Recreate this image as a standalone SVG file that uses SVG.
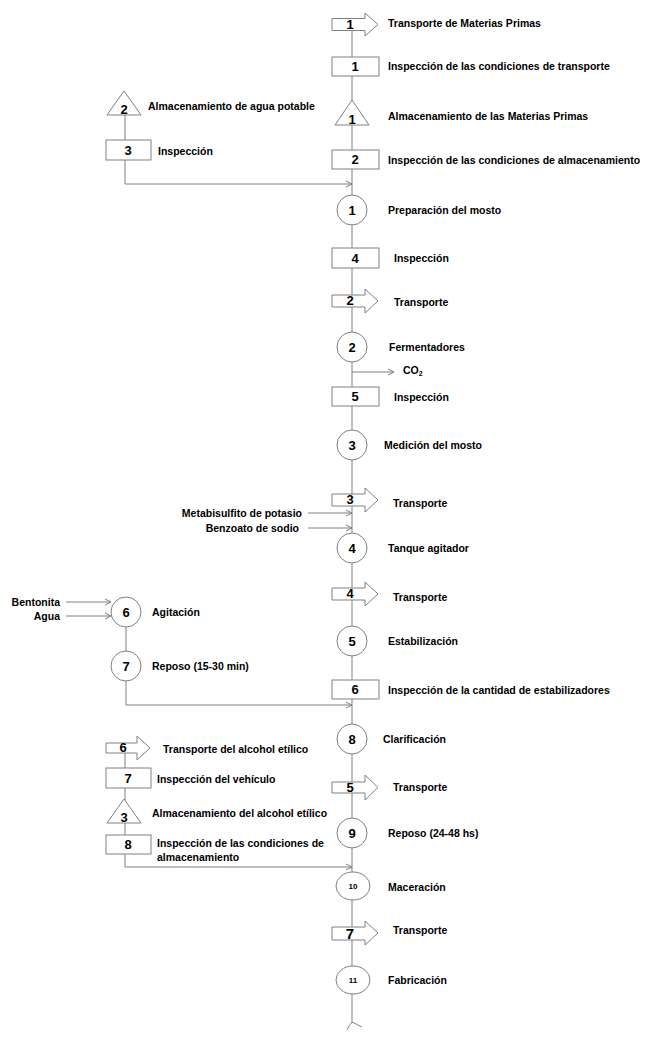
<svg xmlns="http://www.w3.org/2000/svg" width="662" height="1058" viewBox="0 0 662 1058">
<defs>
<style>
.ln{fill:none;stroke:#808080;stroke-width:1}
.sh{fill:#fff;stroke:#808080;stroke-width:1}
.t{font-family:"Liberation Sans",Arial,sans-serif;font-weight:bold;font-size:10.5px;fill:#000}
.n{font-family:"Liberation Sans",Arial,sans-serif;font-weight:bold;font-size:13px;fill:#000;text-anchor:middle}
.s{font-family:"Liberation Sans",Arial,sans-serif;font-weight:bold;font-size:8px;fill:#000;text-anchor:middle}
.e{text-anchor:end}
</style>
<marker id="ah" markerWidth="8" markerHeight="8" refX="7" refY="4" orient="auto" markerUnits="userSpaceOnUse">
<path d="M1,1 L7,4 L1,7" fill="none" stroke="#808080" stroke-width="1"/>
</marker>
</defs>
<rect width="662" height="1058" fill="#fff"/>
<g id="connectors">
<line class="ln" x1="352" y1="24" x2="352" y2="1023"/>
<path class="ln" d="M347,1030 Q349,1025 352,1022 Q356,1024 362,1027"/>
<line class="ln" x1="125" y1="100" x2="125" y2="184"/>
<path class="ln" d="M125,184 H352" marker-end="url(#ah)"/>
<path class="ln" d="M352,372 H394" marker-end="url(#ah)"/>
<path class="ln" d="M308,513 H352" marker-end="url(#ah)"/>
<path class="ln" d="M308,528 H352" marker-end="url(#ah)"/>
<path class="ln" d="M66,602 H111" marker-end="url(#ah)"/>
<path class="ln" d="M66,616 H111" marker-end="url(#ah)"/>
<path class="ln" d="M126,612 V705 H352" marker-end="url(#ah)"/>
<path class="ln" d="M125,748 V867 H352" marker-end="url(#ah)"/>
</g>
<g id="n-t1"><path class="sh" d="M332,18.5 H365 V13 L378,24.5 L365,36 V30.5 H332 Z"/><text class="n" x="350" y="29">1</text><text class="t" x="388" y="27">Transporte de Materias Primas</text></g>
<g id="n-i1"><rect class="sh" x="332" y="57" width="47" height="19"/><text class="n" x="355" y="71">1</text><text class="t" x="388" y="70">Inspección de las condiciones de transporte</text></g>
<g id="n-a1"><path class="sh" d="M352,100 L369,125 H335 Z"/><text class="n" x="352" y="124">1</text><text class="t" x="388" y="120">Almacenamiento de las Materias Primas</text></g>
<g id="n-i2"><rect class="sh" x="332" y="150" width="47" height="19"/><text class="n" x="355" y="164">2</text><text class="t" x="388" y="164">Inspección de las condiciones de almacenamiento</text></g>
<g id="n-a2"><path class="sh" d="M124,91 L141,115 H107 Z"/><text class="n" x="124" y="114">2</text><text class="t" x="148" y="110">Almacenamiento de agua potable</text></g>
<g id="n-i3"><rect class="sh" x="106" y="140" width="45" height="20"/><text class="n" x="128" y="155">3</text><text class="t" x="158" y="155">Inspección</text></g>
<g id="n-o1"><circle class="sh" cx="352" cy="210" r="15"/><text class="n" x="352" y="215">1</text><text class="t" x="388" y="214">Preparación del mosto</text></g>
<g id="n-i4"><rect class="sh" x="332" y="248" width="47" height="20"/><text class="n" x="355" y="263">4</text><text class="t" x="394" y="262">Inspección</text></g>
<g id="n-t2"><path class="sh" d="M332,295 H365 V289 L378,301 L365,313 V307 H332 Z"/><text class="n" x="350" y="305">2</text><text class="t" x="394" y="306">Transporte</text></g>
<g id="n-o2"><circle class="sh" cx="352" cy="347" r="15"/><text class="n" x="352" y="352">2</text><text class="t" x="389" y="351">Fermentadores</text></g>
<g id="n-co2"><text class="t" x="403" y="374">CO<tspan font-size="7px" dy="2">2</tspan></text></g>
<g id="n-i5"><rect class="sh" x="332" y="387" width="47" height="19"/><text class="n" x="355" y="401">5</text><text class="t" x="394" y="401">Inspección</text></g>
<g id="n-o3"><circle class="sh" cx="352" cy="445" r="15"/><text class="n" x="352" y="450">3</text><text class="t" x="384" y="449">Medición del mosto</text></g>
<g id="n-t3"><path class="sh" d="M332,494 H365 V488 L378,500 L365,512 V506 H332 Z"/><text class="n" x="350" y="504">3</text><text class="t" x="393" y="507">Transporte</text></g>
<g id="n-in1"><text class="t e" x="302" y="517">Metabisulfito de potasio</text><text class="t e" x="299" y="532">Benzoato de sodio</text></g>
<g id="n-o4"><circle class="sh" cx="352" cy="548" r="15"/><text class="n" x="352" y="553">4</text><text class="t" x="388" y="552">Tanque agitador</text></g>
<g id="n-t4"><path class="sh" d="M332,588 H365 V582 L378,594 L365,606 V600 H332 Z"/><text class="n" x="350" y="598">4</text><text class="t" x="393" y="601">Transporte</text></g>
<g id="n-o5"><circle class="sh" cx="352" cy="641" r="15"/><text class="n" x="352" y="646">5</text><text class="t" x="388" y="645">Estabilización</text></g>
<g id="n-in2"><text class="t e" x="60" y="606">Bentonita</text><text class="t e" x="60" y="620">Agua</text></g>
<g id="n-o6"><circle class="sh" cx="126" cy="612" r="15"/><text class="n" x="126" y="617">6</text><text class="t" x="152" y="616">Agitación</text></g>
<g id="n-o7"><circle class="sh" cx="126" cy="666" r="15"/><text class="n" x="126" y="671">7</text><text class="t" x="152" y="670">Reposo (15-30 min)</text></g>
<g id="n-i6"><rect class="sh" x="332" y="680" width="47" height="19"/><text class="n" x="355" y="694">6</text><text class="t" x="388" y="694">Inspección de la cantidad de estabilizadores</text></g>
<g id="n-o8"><circle class="sh" cx="352" cy="739" r="15"/><text class="n" x="352" y="744">8</text><text class="t" x="383" y="743">Clarificación</text></g>
<g id="n-t6"><path class="sh" d="M106,743 H137 V736 L150,748 L137,760 V753 H106 Z"/><text class="n" x="123" y="752">6</text><text class="t" x="163" y="753">Transporte del alcohol etílico</text></g>
<g id="n-i7"><rect class="sh" x="106" y="768" width="45" height="20"/><text class="n" x="128" y="783">7</text><text class="t" x="157" y="783">Inspección del vehículo</text></g>
<g id="n-a3"><path class="sh" d="M124,799 L141,823 H107 Z"/><text class="n" x="124" y="822">3</text><text class="t" x="152" y="817">Almacenamiento del alcohol etílico</text></g>
<g id="n-i8"><rect class="sh" x="106" y="835" width="45" height="19"/><text class="n" x="128" y="849">8</text><text class="t" x="157" y="847">Inspección de las condiciones de</text><text class="t" x="157" y="861">almacenamiento</text></g>
<g id="n-t5"><path class="sh" d="M332,782 H365 V775 L378,787.5 L365,800 V793 H332 Z"/><text class="n" x="350" y="792">5</text><text class="t" x="393" y="791">Transporte</text></g>
<g id="n-o9"><circle class="sh" cx="352" cy="833" r="15"/><text class="n" x="352" y="838">9</text><text class="t" x="388" y="837">Reposo (24-48 hs)</text></g>
<g id="n-o10"><ellipse class="sh" cx="353" cy="886" rx="17" ry="14"/><text class="s" x="353" y="889">10</text><text class="t" x="388" y="891">Maceración</text></g>
<g id="n-t7"><path class="sh" d="M332,927 H365 V921 L378,933 L365,945 V940 H332 Z"/><text class="n" x="350" y="939" style="font-size:15px">7</text><text class="t" x="393" y="934">Transporte</text></g>
<g id="n-o11"><ellipse class="sh" cx="353" cy="980" rx="17" ry="14"/><text class="s" x="353" y="983">11</text><text class="t" x="388" y="984">Fabricación</text></g>
</svg>
